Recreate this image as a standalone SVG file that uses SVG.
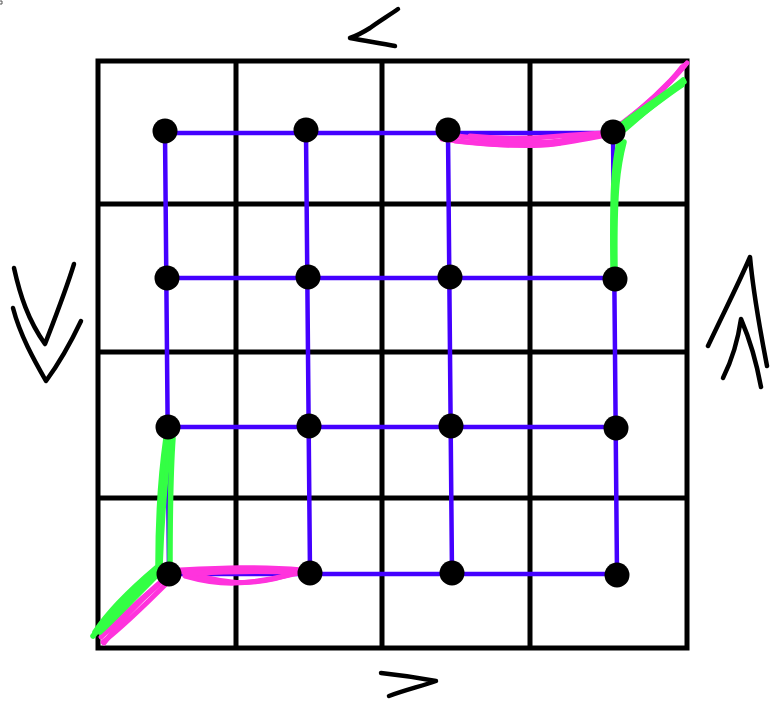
<svg xmlns="http://www.w3.org/2000/svg" width="784" height="714" viewBox="0 0 784 714">
<style>
.grid{stroke:#000;stroke-width:5;fill:none}
.edge{stroke:#4400ff;stroke-width:4.5;fill:none;stroke-linecap:round}
.pink{stroke:#ff33dd;stroke-width:5;fill:none;stroke-linecap:round;stroke-linejoin:round}
.green{stroke:#33ff44;stroke-width:5.5;fill:none;stroke-linecap:round;stroke-linejoin:round}
.mark{stroke:#000;stroke-width:4.5;fill:none;stroke-linecap:round;stroke-linejoin:round}
.dot{fill:#000}
</style>
<rect width="784" height="714" fill="#fff"/>
<g id="grid">
<rect class="grid" x="98" y="61" width="589" height="587"/>
<line class="grid" x1="236" y1="61" x2="236" y2="648"/>
<line class="grid" x1="382" y1="61" x2="382" y2="648"/>
<line class="grid" x1="530" y1="61" x2="530" y2="648"/>
<line class="grid" x1="98" y1="204" x2="687" y2="204"/>
<line class="grid" x1="98" y1="352" x2="687" y2="352"/>
<line class="grid" x1="98" y1="498" x2="687" y2="498"/>
</g>
<g id="connectors">
<path class="edge" d="M165 133 L613 133 M167 278 L615 278 M168 427 L616 427 M169 574 L617 574"/>
<path class="edge" d="M165 133 L169 574 M306 133 L310 574 M448 133 L452 574 M613 133 L617 574"/>
</g>
<g id="pink-path">
<path class="pink" d="M440 134 C480 138 520 146 560 141 C585 137 600 134 612 132"/>
<path class="pink" d="M442 139 C480 144 520 148 555 144 C580 140 598 137 610 134"/>
<path class="pink" d="M470 136 C500 139 530 139 560 136 C585 134 600 133 605 133"/>
<path class="pink" d="M455 141 C490 145 525 147 560 143"/>
<path class="pink" d="M613 130 C640 110 665 90 687 63"/>
<path class="pink" d="M618 128 C645 108 668 86 682 67"/>
<path class="pink" d="M622 124 C648 104 670 82 685 65"/>
<path class="pink" d="M168 582 C145 605 125 625 103 642"/>
<path class="pink" d="M163 580 C140 600 118 620 101 637"/>
<path class="pink" d="M158 585 C135 605 115 628 104 643"/>
<path class="pink" d="M183 572 C220 582 250 590 300 571"/>
<path class="pink" d="M185 576 C220 586 245 586 298 573"/>
<path class="pink" d="M180 570 C220 568 260 566 302 570"/>
<path class="pink" d="M186 574 C220 572 260 570 296 573"/>
</g>
<g id="green-path">
<path class="green" d="M620 126 C640 110 665 95 683 80"/>
<path class="green" d="M616 134 C640 116 665 96 682 85"/>
<path class="green" d="M624 130 C645 112 668 92 684 82"/>
<path class="green" d="M624 142 C618 165 614 190 615 268"/>
<path class="green" d="M619 142 C614 165 612 190 613 268"/>
<path class="green" d="M170 438 C166 470 162 510 160 567"/>
<path class="green" d="M173 438 C170 480 170 520 170 567"/>
<path class="green" d="M166 438 C160 480 158 520 158 565"/>
<path class="green" d="M160 567 C135 590 110 615 93 636"/>
<path class="green" d="M156 568 C130 590 108 612 95 632"/>
<path class="green" d="M162 570 C140 592 118 615 100 632"/>
</g>
<g id="nodes">
<circle class="dot" cx="165" cy="131" r="12.5"/>
<circle class="dot" cx="306" cy="130" r="12.5"/>
<circle class="dot" cx="448" cy="130" r="12.5"/>
<circle class="dot" cx="613" cy="132" r="12.5"/>
<circle class="dot" cx="167" cy="278" r="12.5"/>
<circle class="dot" cx="308" cy="277" r="12.5"/>
<circle class="dot" cx="450" cy="277" r="12.5"/>
<circle class="dot" cx="615" cy="279" r="12.5"/>
<circle class="dot" cx="168" cy="427" r="12.5"/>
<circle class="dot" cx="309" cy="426" r="12.5"/>
<circle class="dot" cx="451" cy="426" r="12.5"/>
<circle class="dot" cx="616" cy="428" r="12.5"/>
<circle class="dot" cx="169" cy="574" r="12.5"/>
<circle class="dot" cx="310" cy="573" r="12.5"/>
<circle class="dot" cx="452" cy="573" r="12.5"/>
<circle class="dot" cx="617" cy="575" r="12.5"/>
</g>
<g id="marks">
<path class="mark" d="M398 9 C388 16 378 22 370 28 C362 33 356 36 350 38 C365 41 380 43 395 46"/>
<path class="mark" d="M381 673 C400 675 420 678 436 681 C422 686 405 690 389 696"/>
<path class="mark" d="M14 268 C20 295 28 320 45 344 C55 318 66 290 74 264"/>
<path class="mark" d="M13 308 C20 335 34 360 46 381 C60 362 72 340 81 321"/>
<path class="mark" d="M708 346 C722 316 738 285 750 257 C753 290 760 330 767 366"/>
<path class="mark" d="M723 378 C732 360 738 340 741 319 C750 340 757 365 761 387"/>
<path d="M0 1 L2 1 L2 4 L0 4" stroke="#555" stroke-width="1" fill="none"/>
</g>
</svg>
